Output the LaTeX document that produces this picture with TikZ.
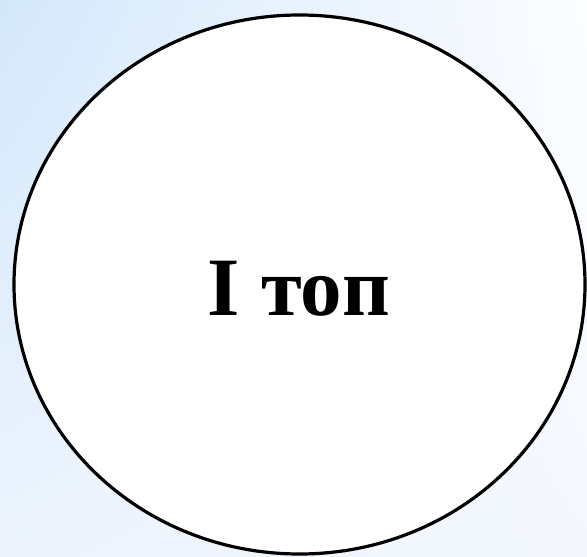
\documentclass[tikz,border=0pt]{standalone}
\usepackage{fontspec}
\setmainfont{Liberation Serif}
\usetikzlibrary{shapes.geometric,shadings}
\definecolor{bgtl}{HTML}{D4E8FB}
\definecolor{bgtr}{HTML}{FCFDFF}
\definecolor{bgbl}{HTML}{EDF4FD}
\definecolor{bgbr}{HTML}{F4F8FE}
\tikzset{
  bubble/.style={ellipse, draw=black, line width=3.2pt, fill=white, minimum width=571pt, minimum height=539pt, inner sep=0pt},
  bigtext/.style={font=\fontsize{83}{90}\selectfont\bfseries, text=black}
}
\begin{document}
\begin{tikzpicture}[x=1pt,y=-1pt]
\useasboundingbox (0,0) rectangle (587,557);
\shade[upper left=bgtl, upper right=bgtr, lower left=bgbl, lower right=bgbr] (0,0) rectangle (587,557);
\node[bubble] (c) at (299.5,284.5) {};
\node[bigtext, anchor=base] (t) at (299,315) {І топ};
\end{tikzpicture}
\end{document}
